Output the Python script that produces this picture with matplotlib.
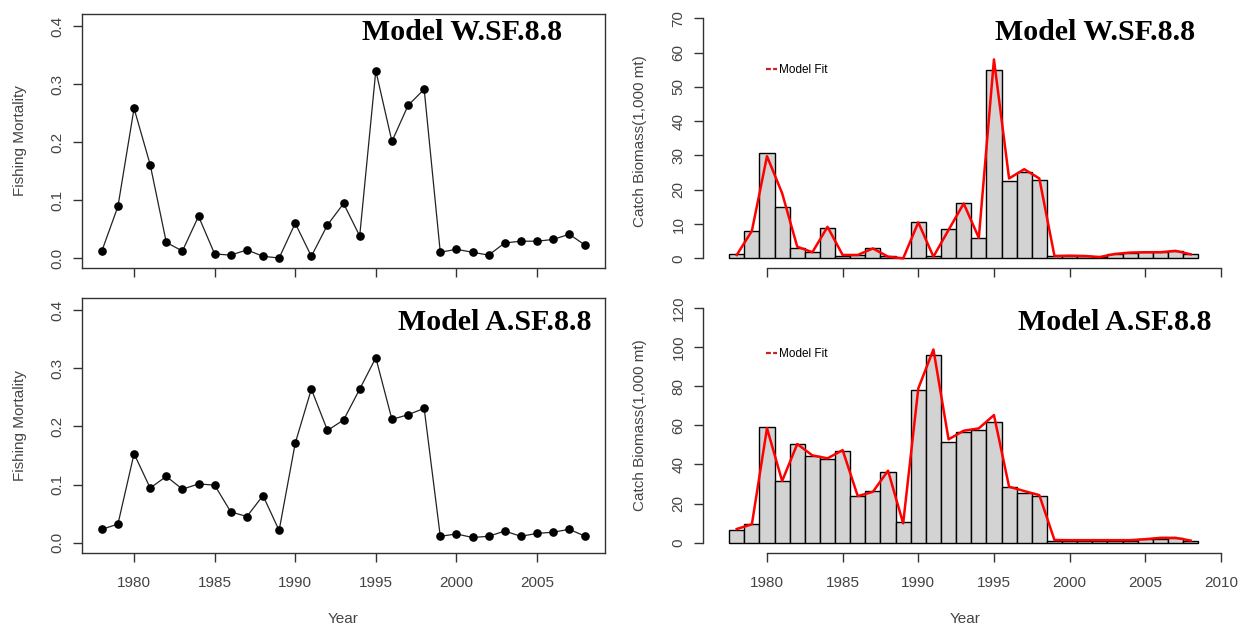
import matplotlib
matplotlib.use('Agg')
import matplotlib.pyplot as plt
from matplotlib.lines import Line2D

years = list(range(1978, 2009))

# fishing mortality by model
f_w = [0.012, 0.089, 0.258, 0.161, 0.027, 0.012, 0.072, 0.007, 0.005, 0.014,
       0.003, 0.000, 0.060, 0.003, 0.057, 0.094, 0.038, 0.323, 0.201, 0.263,
       0.291, 0.010, 0.015, 0.010, 0.005, 0.026, 0.029, 0.029, 0.032, 0.041,
       0.022]
f_a = [0.023, 0.032, 0.153, 0.094, 0.114, 0.092, 0.101, 0.099, 0.053, 0.045,
       0.081, 0.021, 0.171, 0.264, 0.193, 0.211, 0.264, 0.318, 0.212, 0.220,
       0.231, 0.011, 0.015, 0.009, 0.011, 0.020, 0.011, 0.016, 0.018, 0.023,
       0.011]

# observed catch (1,000 mt) and model fit
catch_w = [1.2, 8.0, 30.6, 15.1, 3.1, 1.8, 9.0, 0.8, 1.0, 2.9,
           0.6, 0.0, 10.5, 0.6, 8.6, 16.2, 6.0, 54.8, 22.7, 25.2,
           23.0, 0.7, 0.7, 0.7, 0.4, 1.4, 1.7, 1.9, 1.9, 2.3,
           1.2]
fit_w = [1.0, 8.0, 29.8, 19.0, 3.4, 1.8, 9.2, 1.0, 1.0, 2.9,
         0.5, 0.0, 10.5, 0.5, 8.3, 16.0, 6.0, 58.0, 23.3, 26.0,
         23.3, 0.7, 0.8, 0.7, 0.4, 1.3, 1.7, 1.8, 1.8, 2.2,
         1.2]
catch_a = [6.5, 9.4, 59.2, 31.3, 50.2, 44.4, 42.7, 46.6, 23.8, 26.4,
           36.3, 10.4, 77.8, 96.0, 51.7, 56.3, 57.4, 61.8, 28.4, 25.4,
           24.0, 1.0, 1.0, 1.0, 1.0, 1.0, 1.0, 1.9, 1.9, 2.5,
           1.0]
fit_a = [7.0, 9.4, 58.5, 31.5, 50.4, 44.6, 43.1, 47.3, 23.8, 26.0,
         36.8, 9.9, 78.8, 98.7, 52.8, 57.2, 58.4, 65.2, 28.6, 26.4,
         24.3, 1.4, 1.3, 1.3, 1.3, 1.3, 1.3, 1.8, 2.5, 2.5,
         1.1]

f_ticks = [0.0, 0.1, 0.2, 0.3, 0.4]
f_ticklabels = ['0.0', '0.1', '0.2', '0.3', '0.4']
yr_ticks_left = [1980, 1985, 1990, 1995, 2000, 2005]
yr_ticks_right = [1980, 1985, 1990, 1995, 2000, 2005, 2010]
catch_ticks_w = list(range(0, 80, 10))
catch_ticks_a = list(range(0, 140, 20))

W, H = 1246, 629
fig = plt.figure(figsize=(W / 100, H / 100), dpi=100)
plt.rcParams['font.family'] = 'Liberation Sans'

gray = '#333333'
label_col = '#444444'


def px_axes(left, top, right, bottom):
    return fig.add_axes([left / W, 1 - bottom / H, (right - left) / W, (bottom - top) / H])


def style_ticks(ax):
    ax.tick_params(axis='both', direction='out', length=6.5, width=1,
                   color=gray, labelcolor=label_col, labelsize=11)
    ax.tick_params(axis='x', pad=10)
    ax.tick_params(axis='y', pad=6)
    for lab in ax.get_yticklabels():
        lab.set_rotation(90)
        lab.set_va('center')


def mortality_panel(ax, vals, show_x):
    ax.plot(years, vals, color='#222222', lw=0.9, marker='o', ms=5.2,
            mfc='black', mec='black')
    ax.set_xlim(1976.77, 2009.22)
    ax.set_ylim(-0.0172, 0.4207)
    ax.set_yticks(f_ticks)
    ax.set_yticklabels(f_ticklabels)
    ax.set_xticks(yr_ticks_left)
    if not show_x:
        ax.set_xticklabels([])
    for s in ax.spines.values():
        s.set_color(gray)
        s.set_linewidth(1)
    style_ticks(ax)
    ax.set_ylabel('Fishing Mortality', color=label_col, fontsize=11)
    ax.yaxis.set_label_coords(-0.105, 0.5)
    if show_x:
        ax.set_xlabel('Year', color=label_col, fontsize=11)
        ax.xaxis.set_label_coords(0.5, -0.232)


def catch_panel(ax, obs, fit, ylim, yticks, show_x):
    ax.bar(years, obs, width=1.0, color='#d3d3d3', edgecolor='black', lw=1)
    ax.plot(years, fit, color='red', lw=1.8)
    ax.set_xlim(1975.77, 2010.47)
    ax.set_ylim(*ylim)
    ax.set_yticks(yticks)
    ax.set_xticks(yr_ticks_right)
    if not show_x:
        ax.set_xticklabels([])
    ax.spines['top'].set_visible(False)
    ax.spines['right'].set_visible(False)
    ax.spines['left'].set_bounds(yticks[0], yticks[-1])
    ax.spines['bottom'].set_bounds(yr_ticks_right[0], yr_ticks_right[-1])
    for side in ('left', 'bottom'):
        ax.spines[side].set_color(gray)
        ax.spines[side].set_linewidth(1)
    style_ticks(ax)
    ax.set_ylabel('Catch Biomass(1,000 mt)', color=label_col, fontsize=11)
    ax.yaxis.set_label_coords(-0.107, 0.5)
    if show_x:
        ax.set_xlabel('Year', color=label_col, fontsize=11)
        ax.xaxis.set_label_coords(0.5, -0.232)
    handle = Line2D([], [], color='#cc2020', lw=1.6, ls=(0, (2.2, 1)))
    ax.legend([handle], ['Model Fit'], loc='center left', frameon=False,
              handlelength=1.0, handletextpad=0.15, fontsize=8.5)
    return ax


ax1 = px_axes(82, 14, 605, 268)
mortality_panel(ax1, f_w, False)
ax3 = px_axes(82, 298, 605, 552.7)
mortality_panel(ax3, f_a, True)

ax2 = px_axes(703, 14, 1228, 268)
catch_panel(ax2, catch_w, fit_w, (-2.8, 71.25), catch_ticks_w, False)
ax4 = px_axes(703, 298, 1228, 552.7)
catch_panel(ax4, catch_a, fit_a, (-5.1, 125.0), catch_ticks_a, True)

# legends sit near the top-left of each catch panel
ax2.get_legend().set_bbox_to_anchor((755 / W, 1 - 70 / H), transform=fig.transFigure)
ax4.get_legend().set_bbox_to_anchor((755 / W, 1 - 354 / H), transform=fig.transFigure)

title_kw = dict(family='Liberation Serif', weight='bold', fontsize=21.5,
                ha='right', va='center', color='black')
fig.text(562 / W, 1 - 33 / H, 'Model W.SF.8.8', **title_kw)
fig.text(1195 / W, 1 - 33 / H, 'Model W.SF.8.8', **title_kw)
fig.text(592 / W, 1 - 322 / H, 'Model A.SF.8.8', **title_kw)
fig.text(1211 / W, 1 - 322 / H, 'Model A.SF.8.8', **title_kw)

fig.savefig('out.png', dpi=100)
